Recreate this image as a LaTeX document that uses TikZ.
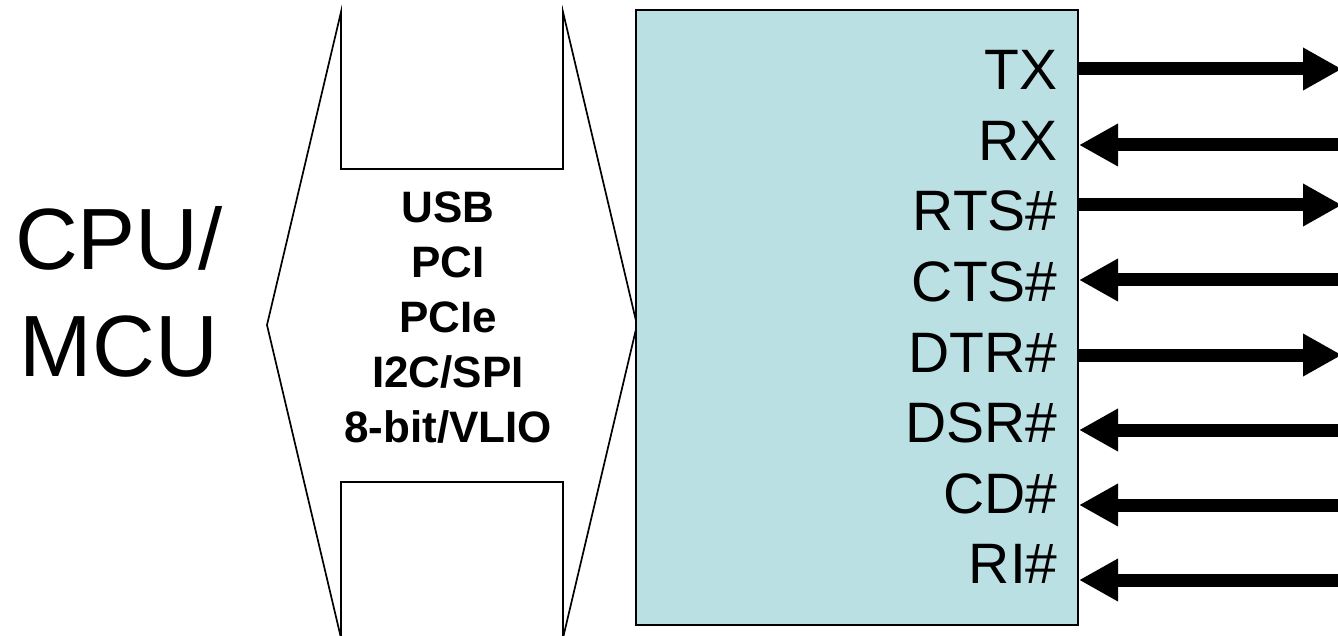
\documentclass[tikz,border=0pt]{standalone}
\usepackage{fontspec}
\setmainfont{Liberation Sans}
\usetikzlibrary{arrows.meta}
\definecolor{uartblue}{RGB}{187,224,227}

\begin{document}
\begin{tikzpicture}[x=0.5pt,y=-0.5pt,>={Triangle[length=19.5pt,width=20pt]},chip/.style={rectangle, draw=black, line width=1pt, fill=uartblue, minimum width=221pt, minimum height=307.5pt, inner sep=0pt},pin/.style={anchor=east, inner sep=0pt, font=\fontsize{28.5}{34}\selectfont},sig/.style={line width=6.5pt}]
\useasboundingbox (0,0) rectangle (1338,636);
\draw (119,292) node[align=center, inner sep=0pt, font=\fontsize{43.5}{53.5}\selectfont] (cpu) {CPU/\\MCU};
\draw[line width=0.85pt] (341,12)--(341,169)--(563,169)--(563,12)--(637,325)--(563,638)--(563,482)--(341,482)--(341,638)--(267,325)--cycle;
\draw (448,318) node[align=center, inner sep=0pt, font=\fontsize{22}{27.5}\selectfont\bfseries] (bus) {USB\\PCI\\PCIe\\I2C/SPI\\8-bit/VLIO};
\draw (857,317.5) node[chip] (uart) {};
% pin names
\draw (1058,70) node[pin] (TX) {TX};
\draw (1058,140.6) node[pin] (RX) {RX};
\draw (1058,211.2) node[pin] (RTS) {RTS\#};
\draw (1058,281.8) node[pin] (CTS) {CTS\#};
\draw (1058,352.4) node[pin] (DTR) {DTR\#};
\draw (1058,423) node[pin] (DSR) {DSR\#};
\draw (1058,493.6) node[pin] (CD) {CD\#};
\draw (1058,564.2) node[pin] (RI) {RI\#};
% line ends
\coordinate (TXa) at (uart.east |- 0,69);  \coordinate (TXb) at (1342,69);
\coordinate (RXa) at (uart.east |- 0,145); \coordinate (RXb) at (1342,145);
\coordinate (RTSa) at (uart.east |- 0,205); \coordinate (RTSb) at (1342,205);
\coordinate (CTSa) at (uart.east |- 0,280); \coordinate (CTSb) at (1342,280);
\coordinate (DTRa) at (uart.east |- 0,355); \coordinate (DTRb) at (1342,355);
\coordinate (DSRa) at (uart.east |- 0,430); \coordinate (DSRb) at (1342,430);
\coordinate (CDa) at (uart.east |- 0,505); \coordinate (CDb) at (1342,505);
\coordinate (RIa) at (uart.east |- 0,580); \coordinate (RIb) at (1342,580);
\draw[sig,->] (TXa)--(TXb);
\draw[sig,->] (RXb)--(RXa);
\draw[sig,->] (RTSa)--(RTSb);
\draw[sig,->] (CTSb)--(CTSa);
\draw[sig,->] (DTRa)--(DTRb);
\draw[sig,->] (DSRb)--(DSRa);
\draw[sig,->] (CDb)--(CDa);
\draw[sig,->] (RIb)--(RIa);
\end{tikzpicture}
\end{document}
